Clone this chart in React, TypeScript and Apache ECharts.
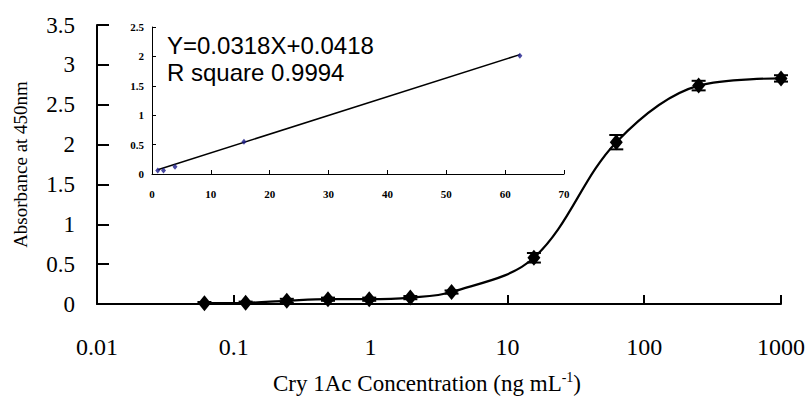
import React, { useEffect, useRef } from "react";
import * as echarts from "echarts";

// Main dose-response data (ng/mL vs absorbance at 450 nm)
const concentrations = [0.061, 0.122, 0.244, 0.488, 0.977, 1.953, 3.906, 15.625, 62.5, 250, 1000];
const absorbance = [0.01, 0.015, 0.04, 0.06, 0.06, 0.08, 0.15, 0.58, 2.03, 2.74, 2.83];
const errorBars = [0.015, 0.015, 0.025, 0.02, 0.02, 0.02, 0.02, 0.06, 0.09, 0.06, 0.04];
const xTickLabels = ["0.01", "0.1", "1", "10", "100", "1000"];

// Inset: linear range
const insetX = [0.977, 1.953, 3.906, 15.625, 62.5];
const insetY = [0.06, 0.06, 0.125, 0.55, 2.01];
const fitX = [0.977, 62.5];
const fitY = [0.073, 2.03];
const equationText = "Y=0.0318X+0.0418";
const rSquareText = "R square 0.9994";

const SERIF = "'Liberation Serif', 'Times New Roman', serif";
const SANS = "'Liberation Sans', Arial, sans-serif";

export default function App() {
  const ref = useRef<HTMLDivElement>(null);
  useEffect(() => {
    if (!ref.current) return;
    const chart = echarts.init(ref.current, null, { renderer: "svg" });
    const mainData = concentrations.map((c, i) => [c, absorbance[i]]);
    const errData = concentrations.map((c, i) => [c, absorbance[i], errorBars[i]]);
    const insetData = insetX.map((x, i) => [x, insetY[i]]);
    const fitData = fitX.map((x, i) => [x, fitY[i]]);

    chart.setOption({
      animation: false,
      backgroundColor: "#fff",
      grid: [
        { left: 97, right: 27, top: 25, bottom: 101 },
        { left: 152, right: 244, top: 27, bottom: 231 },
      ],
      xAxis: [
        {
          gridIndex: 0,
          type: "log",
          logBase: 10,
          min: 0.01,
          max: 1000,
          name: "Cry 1Ac Concentration (ng mL{sup|-1})",
          nameLocation: "middle",
          nameGap: 66,
          nameTextStyle: {
            fontFamily: SERIF,
            fontSize: 23,
            color: "#000",
            padding: [0, 24, 0, 0],
            rich: {
              sup: { fontFamily: SERIF, fontSize: 14, color: "#000", verticalAlign: "top", padding: [0, 0, 12, 0] },
            },
          },
          axisLine: { lineStyle: { color: "#000", width: 2 } },
          axisTick: { inside: true, length: 9, lineStyle: { color: "#000", width: 2 } },
          minorTick: { show: false },
          splitLine: { show: false },
          axisLabel: {
            margin: 31,
            fontFamily: SERIF,
            fontSize: 24,
            color: "#000",
            formatter: (v: number) => {
              const idx = Math.round(Math.log10(v)) + 2;
              return xTickLabels[idx] ?? String(v);
            },
          },
        },
        {
          gridIndex: 1,
          type: "value",
          min: 0,
          max: 70,
          interval: 10,
          axisLine: { lineStyle: { color: "#000", width: 1 } },
          axisTick: { inside: true, length: 4, lineStyle: { color: "#000" } },
          splitLine: { show: false },
          axisLabel: { margin: 14, fontFamily: SERIF, fontSize: 11, fontWeight: "bold", color: "#000" },
        },
      ],
      yAxis: [
        {
          gridIndex: 0,
          type: "value",
          min: 0,
          max: 3.5,
          interval: 0.5,
          name: "Absorbance at 450nm",
          nameLocation: "middle",
          nameGap: 67,
          nameTextStyle: { fontFamily: SERIF, fontSize: 19, color: "#000" },
          axisLine: { show: true, lineStyle: { color: "#000", width: 2 } },
          axisTick: { show: true, inside: true, length: 12, lineStyle: { color: "#000", width: 2 } },
          splitLine: { show: false },
          axisLabel: { margin: 22, fontFamily: SERIF, fontSize: 23, color: "#000" },
        },
        {
          gridIndex: 1,
          type: "value",
          min: 0,
          max: 2.5,
          interval: 0.5,
          axisLine: { show: true, lineStyle: { color: "#000", width: 1 } },
          axisTick: { show: true, inside: true, length: 4, lineStyle: { color: "#000" } },
          splitLine: { show: false },
          axisLabel: { margin: 8, fontFamily: SERIF, fontSize: 11, fontWeight: "bold", color: "#000" },
        },
      ],
      series: [
        {
          type: "line",
          xAxisIndex: 0,
          yAxisIndex: 0,
          data: mainData,
          smooth: 0.35,
          symbol: "diamond",
          symbolSize: [13, 16],
          showAllSymbol: true,
          itemStyle: { color: "#000" },
          lineStyle: { color: "#000", width: 2.2 },
          z: 3,
        },
        {
          type: "custom",
          xAxisIndex: 0,
          yAxisIndex: 0,
          data: errData,
          encode: { x: 0, y: 1 },
          z: 4,
          renderItem: (params: any, api: any) => {
            const x = api.value(0);
            const y = api.value(1);
            const e = api.value(2);
            const top = api.coord([x, y + e]);
            const bot = api.coord([x, Math.max(0, y - e)]);
            const w = 7;
            const st = { stroke: "#000", lineWidth: 2 };
            return {
              type: "group",
              children: [
                { type: "line", shape: { x1: top[0], y1: top[1], x2: bot[0], y2: bot[1] }, style: st },
                { type: "line", shape: { x1: top[0] - w, y1: top[1], x2: top[0] + w, y2: top[1] }, style: st },
                { type: "line", shape: { x1: bot[0] - w, y1: bot[1], x2: bot[0] + w, y2: bot[1] }, style: st },
              ],
            };
          },
        },
        {
          type: "line",
          xAxisIndex: 1,
          yAxisIndex: 1,
          data: fitData,
          symbol: "none",
          lineStyle: { color: "#000", width: 1.5 },
          z: 3,
        },
        {
          type: "scatter",
          xAxisIndex: 1,
          yAxisIndex: 1,
          data: insetData,
          symbol: "diamond",
          symbolSize: [5, 6],
          itemStyle: { color: "#1c1c8a" },
          z: 4,
        },
      ],
      graphic: [
        {
          type: "text",
          left: 167,
          top: 33,
          style: { text: equationText, font: `24px ${SANS}`, fill: "#000" },
        },
        {
          type: "text",
          left: 167,
          top: 60,
          style: { text: rSquareText, font: `24px ${SANS}`, fill: "#000" },
        },
      ],
    });
    return () => chart.dispose();
  }, []);

  return (
    <div
      ref={ref}
      style={{ position: "fixed", left: 0, top: 0, width: 808, height: 405, background: "#fff" }}
    />
  );
}
